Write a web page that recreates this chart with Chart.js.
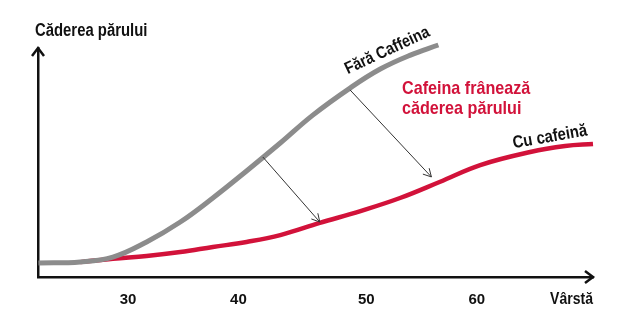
<!DOCTYPE html>
<html>
<head>
<meta charset="utf-8">
<script src="https://cdn.jsdelivr.net/npm/chart.js@4.4.0/dist/chart.umd.min.js"></script>
<style>
  html, body { margin: 0; padding: 0; background: #fff; }
  #wrap { width: 626px; height: 328px; }
</style>
</head>
<body>
<div id="wrap"><canvas id="hairChart"></canvas></div>
<script>
// --- Data (x = age, y = relative hair loss) ---
const faraAges = [22.3, 25.9, 28.7, 31.6, 34.5, 37.3, 40.2, 43.1, 45.9, 49.1, 51.7, 54.3, 56.7];
const faraVals = [6.1, 6.6, 8.7, 15.3, 24.0, 34.5, 46.3, 58.5, 70.7, 82.5, 90.8, 96.9, 101.3];

const cuAges = [25.9, 28.7, 31.6, 34.5, 37.3, 40.2, 43.1, 46.5, 50.0, 53.4, 56.8, 60.3, 64.6, 67.6, 70.0];
const cuVals = [6.5, 8.0, 9.2, 10.9, 13.1, 15.3, 18.3, 23.6, 28.8, 34.5, 41.5, 48.9, 54.6, 57.2, 58.1];

// tick labels sit where the original artwork put them
const tickValues = [30, 39.5, 50.5, 60];
const tickLabels = ['30', '40', '50', '60'];

// arrows from the grey curve to the red curve: [fromAge, fromVal, toAge, toVal]
const arrows = [
    [41.6, 52.4, 46.5, 24.0],
    [49.1, 81.7, 56.1, 43.7]
];

const GREY = '#8c8c8c';
const RED = '#d2123a';
const FONT = "'Liberation Sans', Arial, sans-serif";
const SQUEEZE = 0.85; // condensed look for the artwork texts

const toPoints = (xs, ys) => xs.map((x, i) => ({ x: x, y: ys[i] }));

// draw text horizontally condensed
function condensedText(ctx, text, x, y, angleDeg) {
    ctx.save();
    ctx.translate(x, y);
    if (angleDeg) ctx.rotate(angleDeg * Math.PI / 180);
    ctx.scale(SQUEEZE, 1);
    ctx.fillText(text, 0, 0);
    ctx.restore();
}

// --- Plugin: axis arrows, arrows between curves, texts ---
const decorPlugin = {
    id: 'decor',
    afterDraw(chart) {
        const ctx = chart.ctx;
        const xs = chart.scales.x;
        const ys = chart.scales.y;
        const area = chart.chartArea;

        ctx.save();
        // axis arrow heads
        ctx.strokeStyle = '#111';
        ctx.lineWidth = 2.5;
        ctx.beginPath();
        ctx.moveTo(area.left - 6, area.top + 8);
        ctx.lineTo(area.left, area.top);
        ctx.lineTo(area.left + 6, area.top + 8);
        ctx.moveTo(area.right - 8, area.bottom - 6);
        ctx.lineTo(area.right, area.bottom);
        ctx.lineTo(area.right - 8, area.bottom + 6);
        ctx.stroke();

        // thin arrows
        ctx.strokeStyle = '#333';
        ctx.lineWidth = 1;
        arrows.forEach(a => {
            const x1 = xs.getPixelForValue(a[0]), y1 = ys.getPixelForValue(a[1]);
            const x2 = xs.getPixelForValue(a[2]), y2 = ys.getPixelForValue(a[3]);
            const ang = Math.atan2(y2 - y1, x2 - x1);
            const len = 9;
            ctx.beginPath();
            ctx.moveTo(x1, y1);
            ctx.lineTo(x2, y2);
            ctx.moveTo(x2 - len * Math.cos(ang - 0.5), y2 - len * Math.sin(ang - 0.5));
            ctx.lineTo(x2, y2);
            ctx.lineTo(x2 - len * Math.cos(ang + 0.5), y2 - len * Math.sin(ang + 0.5));
            ctx.stroke();
        });

        // texts
        ctx.textBaseline = 'middle';
        ctx.fillStyle = '#111';
        ctx.font = 'bold 17.5px ' + FONT;
        ctx.textAlign = 'left';
        condensedText(ctx, 'Căderea părului', 35, 31);

        ctx.font = 'bold 16.5px ' + FONT;
        ctx.textAlign = 'right';
        condensedText(ctx, 'Vârstă', area.right, 299);

        // curve labels
        ctx.font = 'bold 17px ' + FONT;
        ctx.textAlign = 'center';
        condensedText(ctx, 'Fără Caffeina', xs.getPixelForValue(52.3), ys.getPixelForValue(98.8), -25);
        ctx.font = 'bold 17.5px ' + FONT;
        condensedText(ctx, 'Cu cafeină', xs.getPixelForValue(66.3), ys.getPixelForValue(61.1), -10);

        ctx.fillStyle = RED;
        ctx.font = 'bold 19px ' + FONT;
        ctx.textAlign = 'left';
        condensedText(ctx, 'Cafeina frânează', 402, 89);
        condensedText(ctx, 'căderea părului', 402, 109);
        ctx.restore();
    }
};

const ctx = document.getElementById('hairChart').getContext('2d');
const hairChart = new Chart(ctx, {
    type: 'line',
    data: {
        datasets: [
            {
                label: 'Fără Caffeina',
                data: toPoints(faraAges, faraVals),
                borderColor: GREY,
                borderWidth: 5,
                pointRadius: 0,
                tension: 0.4,
                borderCapStyle: 'butt',
                clip: false,
                order: 0
            },
            {
                label: 'Cu cafeină',
                data: toPoints(cuAges, cuVals),
                borderColor: RED,
                borderWidth: 4.5,
                pointRadius: 0,
                tension: 0.4,
                borderCapStyle: 'butt',
                clip: false,
                order: 1
            }
        ]
    },
    options: {
        responsive: true,
        maintainAspectRatio: false,
        animation: false,
        layout: { padding: { left: 38, top: 48, right: 33, bottom: 0 } },
        plugins: {
            legend: { display: false },
            tooltip: { enabled: false }
        },
        scales: {
            x: {
                type: 'linear',
                min: 22.26,
                max: 70,
                afterBuildTicks: scale => {
                    scale.ticks = tickValues.map(v => ({ value: v }));
                },
                afterFit: scale => { scale.height = 51; },
                grid: { display: false, drawTicks: false },
                border: { display: true, color: '#111', width: 2.5 },
                ticks: {
                    autoSkip: false,
                    maxRotation: 0,
                    padding: 14,
                    color: '#111',
                    font: { family: FONT, size: 15, weight: 'bold' },
                    callback: (value, index) => tickLabels[index]
                }
            },
            y: {
                type: 'linear',
                min: 0,
                max: 100,
                afterFit: scale => { scale.width = 0; },
                grid: { display: false, drawTicks: false },
                border: { display: true, color: '#111', width: 2.5 },
                ticks: { display: false }
            }
        }
    },
    plugins: [decorPlugin]
});
</script>
</body>
</html>
